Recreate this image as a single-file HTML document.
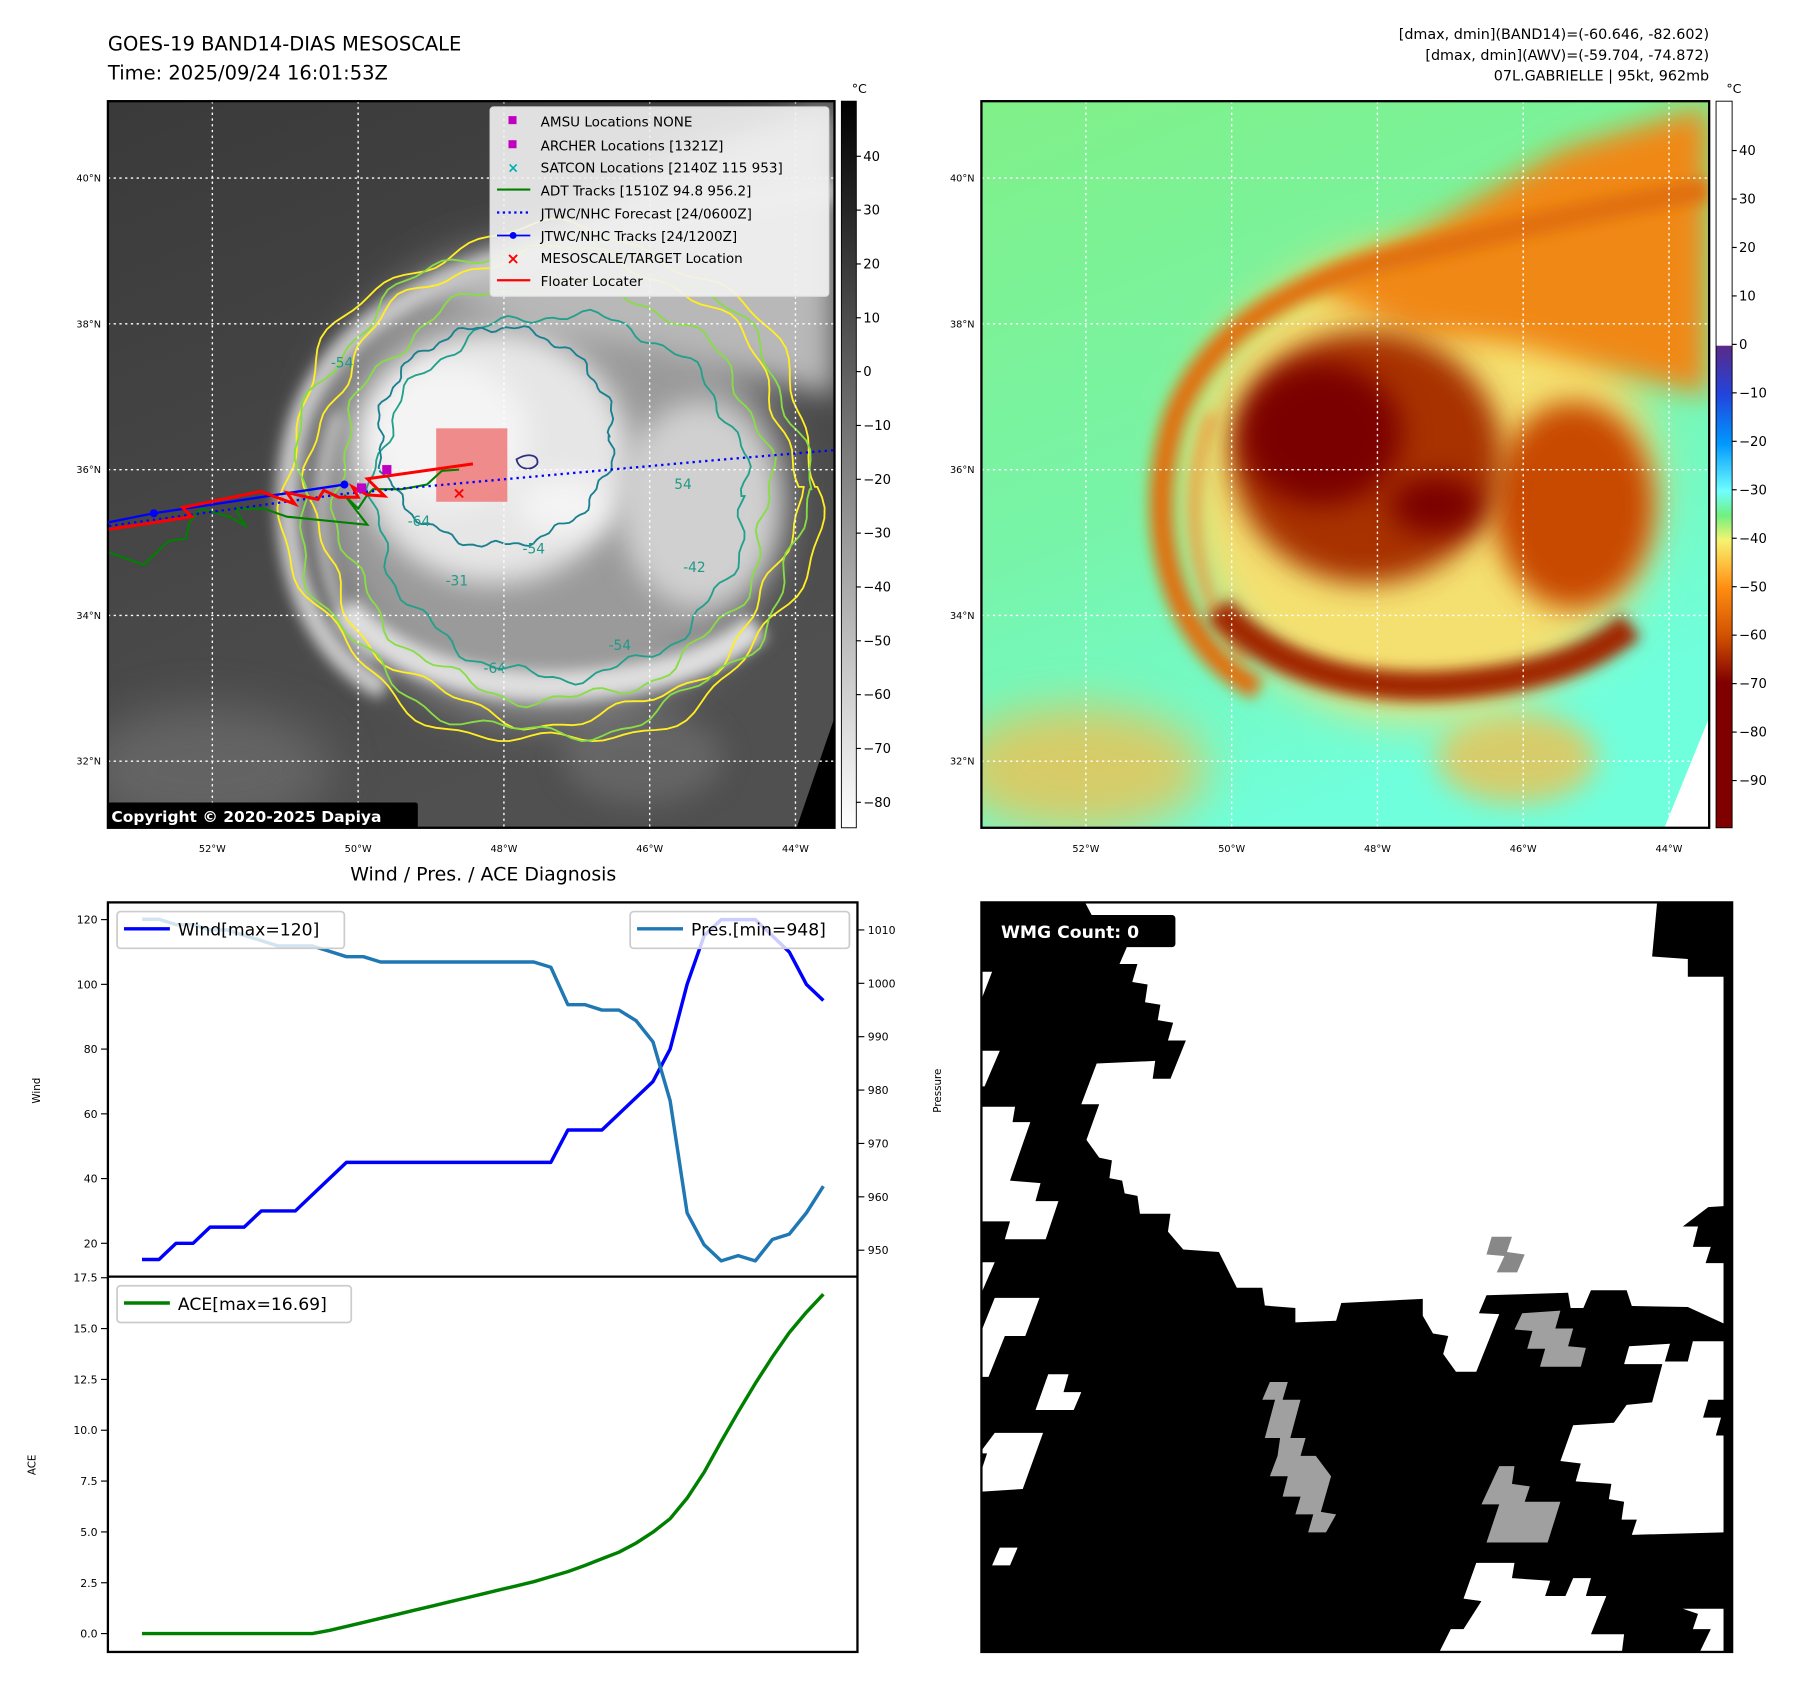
<!DOCTYPE html>
<html><head><meta charset="utf-8"><style>html,body{margin:0;padding:0;background:#fff}svg{display:block}text{font-family:"DejaVu Sans","Liberation Sans",sans-serif}</style></head>
<body>
<svg id="root" xmlns="http://www.w3.org/2000/svg" width="1801" height="1690" viewBox="0 0 1569 1472">
<defs>
<filter id="b6" x="-50%" y="-50%" width="200%" height="200%"><feGaussianBlur stdDeviation="6"/></filter>
<filter id="b12" x="-50%" y="-50%" width="200%" height="200%"><feGaussianBlur stdDeviation="12"/></filter>
<filter id="b20" x="-60%" y="-60%" width="220%" height="220%"><feGaussianBlur stdDeviation="20"/></filter>
<clipPath id="clipL"><rect x="94" y="88" width="633" height="633"/></clipPath>
<clipPath id="clipR"><rect x="855" y="88" width="634" height="633"/></clipPath>
<clipPath id="clipW"><rect x="94" y="786" width="653" height="326"/></clipPath>
<clipPath id="clipA"><rect x="94" y="1112" width="653" height="327"/></clipPath>
<clipPath id="clipBR"><rect x="855" y="786" width="654" height="653"/></clipPath>
<linearGradient id="gcb" x1="0" y1="0" x2="0" y2="1"><stop offset="0" stop-color="#000"/><stop offset="1" stop-color="#fff"/></linearGradient>
<linearGradient id="ccb" x1="0" y1="0" x2="0" y2="1">
<stop offset="0" stop-color="#fff"/><stop offset="0.336" stop-color="#fff"/>
<stop offset="0.337" stop-color="#5a2a88"/><stop offset="0.404" stop-color="#2244dd"/>
<stop offset="0.471" stop-color="#0098ff"/><stop offset="0.537" stop-color="#70ffff"/>
<stop offset="0.57" stop-color="#70f080"/><stop offset="0.604" stop-color="#f4f470"/>
<stop offset="0.637" stop-color="#ffc040"/><stop offset="0.671" stop-color="#ff8c10"/>
<stop offset="0.737" stop-color="#d05000"/><stop offset="0.8" stop-color="#800000"/><stop offset="1" stop-color="#800000"/></linearGradient>
<linearGradient id="rbg" x1="0" y1="0" x2="0.4" y2="1"><stop offset="0" stop-color="#80f088"/><stop offset="0.55" stop-color="#78f4a8"/><stop offset="1" stop-color="#70ffdc"/></linearGradient>
<linearGradient id="lbg" x1="0" y1="0" x2="0.4" y2="1"><stop offset="0" stop-color="#3a3a3a"/><stop offset="1" stop-color="#505050"/></linearGradient>
</defs>

<text x="94" y="44" font-size="17">GOES-19 BAND14-DIAS MESOSCALE</text>
<text x="94" y="69" font-size="17">Time: 2025/09/24 16:01:53Z</text>
<g font-size="12.5" text-anchor="end">
<text x="1489" y="34">[dmax, dmin](BAND14)=(-60.646, -82.602)</text>
<text x="1489" y="52">[dmax, dmin](AWV)=(-59.704, -74.872)</text>
<text x="1489" y="70">07L.GABRIELLE | 95kt, 962mb</text>
</g>

<!-- LEFT MAP -->
<g clip-path="url(#clipL)">
<rect x="94" y="88" width="633" height="633" fill="url(#lbg)"/>
<g id="cloudsL"></g>
<g id="contoursL" fill="none"></g>
<polygon points="727,625 727,721 694,721" fill="#000"/>
</g>
<g id="gridL"></g>
<rect x="94" y="88" width="633" height="633" fill="none" stroke="#000" stroke-width="2"/>

<!-- tracks -->
<g clip-path="url(#clipL)">
<rect x="380" y="373" width="62" height="64" fill="#f08080" opacity="0.9"/>
<polyline points="95,481 125,492 147,471 162,469 165,455 175,443 200,450 214,458 205,443 230,443 250,450 320,457 300,431 312,443 320,431 325,426 350,426 372,422 385,410 400,409" fill="none" stroke="#008000" stroke-width="1.8"/>
<polyline points="95,458 300,430 620,401 727,392" fill="none" stroke="#0000ff" stroke-width="2" stroke-dasharray="2,3.5"/>
<polyline points="94,455 134,447 300,422" fill="none" stroke="#0000ff" stroke-width="2"/>
<circle cx="134" cy="447" r="3.5" fill="#0000ff"/><circle cx="300" cy="422" r="3.5" fill="#0000ff"/>
<polyline points="95,461 167,450 159,442 227,428 257,439 250,429 277,435 282,427 295,433 312,433 307,424 320,431 335,432 320,417 412,404" fill="none" stroke="#ff0000" stroke-width="2.6"/>
<rect x="333" y="405" width="8" height="8" fill="#c000c0"/>
<rect x="311" y="421" width="8" height="8" fill="#c000c0"/>
<text x="400" y="434" font-size="14" font-weight="bold" fill="#ff0000" text-anchor="middle">×</text>
</g>

<g>
<rect x="427" y="93" width="295" height="165" rx="3" fill="#f2f2f2" fill-opacity="0.9" stroke="#ddd"/>
<g font-size="11.8">
<rect x="443" y="101" width="7" height="7" fill="#c000c0"/><text x="471" y="110">AMSU Locations NONE</text>
<rect x="443" y="122" width="7" height="7" fill="#c000c0"/><text x="471" y="131">ARCHER Locations [1321Z]</text>
<text x="447" y="150" fill="#00b0b0" font-size="12" font-weight="bold" text-anchor="middle">×</text><text x="471" y="150">SATCON Locations [2140Z 115 953]</text>
<line x1="433" y1="165" x2="462" y2="165" stroke="#008000" stroke-width="1.8"/><text x="471" y="170">ADT Tracks [1510Z 94.8 956.2]</text>
<line x1="433" y1="185" x2="462" y2="185" stroke="#0000ff" stroke-width="2" stroke-dasharray="2,3"/><text x="471" y="190">JTWC/NHC Forecast [24/0600Z]</text>
<line x1="433" y1="205" x2="462" y2="205" stroke="#0000ff" stroke-width="1.6"/><circle cx="447" cy="205" r="3" fill="#0000ff"/><text x="471" y="210">JTWC/NHC Tracks [24/1200Z]</text>
<text x="447" y="230" fill="#ff0000" font-size="14" font-weight="bold" text-anchor="middle">×</text><text x="471" y="229">MESOSCALE/TARGET Location</text>
<line x1="433" y1="244" x2="462" y2="244" stroke="#ff0000" stroke-width="2"/><text x="471" y="249">Floater Locater</text>
</g></g>
<g><rect x="94" y="699" width="270" height="22" rx="2" fill="#000"/><text x="97" y="716" font-size="13.5" font-weight="bold" fill="#fff">Copyright © 2020-2025 Dapiya</text></g>

<g>
<rect x="733" y="88" width="13" height="633" fill="url(#gcb)" stroke="#000" stroke-width="0.8"/>
<text x="742" y="81" font-size="11">°C</text>
<g id="cbL" font-size="11.5"></g></g>

<!-- RIGHT MAP -->
<g clip-path="url(#clipR)">
<rect x="855" y="88" width="634" height="633" fill="url(#rbg)"/>
<g id="cloudsR" transform="translate(761,0)"></g>
<polygon points="1489,625 1489,721 1450,721" fill="#fff"/>
</g>
<g id="gridR"></g>
<rect x="855" y="88" width="634" height="633" fill="none" stroke="#000" stroke-width="2"/>
<g>
<rect x="1495" y="88" width="14" height="633" fill="url(#ccb)" stroke="#000" stroke-width="0.8"/>
<text x="1504" y="81" font-size="11">°C</text>
<g id="cbR" font-size="11.5"></g></g>

<!-- CHART -->
<text x="421" y="767" font-size="16.5" text-anchor="middle">Wind / Pres. / ACE Diagnosis</text>
<g id="chart"></g>

<!-- WMG -->
<g>
<g clip-path="url(#clipBR)"><rect x="855" y="786" width="654" height="653" fill="#000"/><g id="wmg"></g></g>
<rect x="855" y="786" width="654" height="653" fill="none" stroke="#000" stroke-width="2"/>
<rect x="864" y="797" width="160" height="28" rx="3" fill="#000"/>
<text x="872" y="817" font-size="15" font-weight="bold" fill="#fff">WMG Count: 0</text>
</g>
</svg>
<script>
const NS='http://www.w3.org/2000/svg';
// ===== Chart data =====
const windValues=[15,15,20,20,25,25,25,30,30,30,35,40,45,45,45,45,45,45,45,45,45,45,45,45,45,55,55,55,60,65,70,80,100,115,120,120,120,115,110,100,95];
const presValues=[1012,1012,1011,1011,1010,1010,1009,1008,1007,1007,1007,1006,1005,1005,1004,1004,1004,1004,1004,1004,1004,1004,1004,1004,1003,996,996,995,995,993,989,978,957,951,948,949,948,952,953,957,962];
const aceValues=[0,0,0,0,0,0,0,0,0,0,0,0.15,0.35,0.55,0.75,0.95,1.15,1.35,1.55,1.75,1.95,2.15,2.35,2.55,2.8,3.05,3.35,3.68,4.0,4.45,4.99,5.65,6.66,7.93,9.45,10.9,12.3,13.6,14.8,15.8,16.69];
const windTicks=[20,40,60,80,100,120];
const presTicks=[950,960,970,980,990,1000,1010];
const aceTicks=[0,2.5,5,7.5,10,12.5,15,17.5];
const aceTickLabels=['0.0','2.5','5.0','7.5','10.0','12.5','15.0','17.5'];
function lin(d0,d1,r0,r1){return v=>r0+(v-d0)/(d1-d0)*(r1-r0);}
const xS=lin(-2,42,94,747);
const yW=lin(20,120,1083,801);
const yP=lin(950,1010,1089,810);
const yA=lin(0,17.5,1423,1113);
const chart=document.getElementById('chart');
function el(tag,attrs,parent){const e=document.createElementNS(NS,tag);for(const k in attrs)e.setAttribute(k,attrs[k]);(parent||chart).appendChild(e);return e;}
function txt(s,attrs,parent){const e=el('text',attrs,parent);e.textContent=s;return e;}
function series(vals,ys,color,clip,name){
  const p=el('polyline',{points:vals.map((v,i)=>xS(i).toFixed(1)+','+ys(v).toFixed(1)).join(' '),fill:'none',stroke:color,'stroke-width':3,'stroke-linejoin':'round','clip-path':'url(#'+clip+')'});
  
  
}
series(windValues,yW,'#0000ff','clipW','wind-line');
series(presValues,yP,'#1f77b4','clipW','pressure-line');
series(aceValues,yA,'#008000','clipA','ace-line');
windTicks.forEach(v=>{const y=yW(v);el('line',{x1:88,x2:94,y1:y,y2:y,stroke:'#000'});const t=txt(String(v),{x:85,y:y+3.5,'font-size':9.5,'text-anchor':'end'});});
presTicks.forEach(v=>{const y=yP(v);el('line',{x1:747,x2:753,y1:y,y2:y,stroke:'#000'});const t=txt(String(v),{x:756,y:y+3.5,'font-size':9.5});});
aceTicks.forEach((v,i)=>{const y=yA(v);el('line',{x1:88,x2:94,y1:y,y2:y,stroke:'#000'});const t=txt(aceTickLabels[i],{x:85,y:y+3.5,'font-size':9.5,'text-anchor':'end'});});
el('rect',{x:94,y:786,width:653,height:653,fill:'none',stroke:'#000','stroke-width':2});
el('line',{x1:94,x2:747,y1:1112,y2:1112,stroke:'#000','stroke-width':2});
let t=txt('Wind',{x:0,y:0,'font-size':9,transform:'translate(35,950) rotate(-90)','text-anchor':'middle'});
t=txt('Pressure',{x:0,y:0,'font-size':9,transform:'translate(820,950) rotate(-90)','text-anchor':'middle'});
t=txt('ACE',{x:0,y:0,'font-size':9,transform:'translate(31,1276) rotate(-90)','text-anchor':'middle'});
function legend(x,y,w,color,label,name){const g=el('g',{});
 el('rect',{x:x,y:y,width:w,height:32,rx:3,fill:'#fff','fill-opacity':0.8,stroke:'#ccc','stroke-width':1.5},g);
 el('line',{x1:x+6,x2:x+46,y1:y+15,y2:y+15,stroke:color,'stroke-width':3},g);
 txt(label,{x:x+53,y:y+21,'font-size':15},g);}
legend(102,794,198,'#0000ff','Wind[max=120]','wind-legend');
legend(549,794,191,'#1f77b4','Pres.[min=948]','pressure-legend');
legend(102,1120,204,'#008000','ACE[max=16.69]','ace-legend');

// ===== Map grids =====
function grid(id,x0){const g=document.getElementById(id);
 const lons=['52°W','50°W','48°W','46°W','44°W'],lats=['40°N','38°N','36°N','34°N','32°N'];
 lons.forEach((s,i)=>{const x=x0+91+127*i;el('line',{x1:x,x2:x,y1:88,y2:721,stroke:'#fff','stroke-width':1.2,'stroke-dasharray':'2,3'},g);txt(s,{x:x,y:742,'font-size':8.5,'text-anchor':'middle'},g);});
 lats.forEach((s,i)=>{const y=155+127*i;el('line',{x1:x0,x2:x0+633,y1:y,y2:y,stroke:'#fff','stroke-width':1.2,'stroke-dasharray':'2,3'},g);txt(s,{x:x0-6,y:y+3,'font-size':8.5,'text-anchor':'end'},g);});}
grid('gridL',94);grid('gridR',855);
const cbLticks=[40,30,20,10,0,-10,-20,-30,-40,-50,-60,-70,-80];
cbLticks.forEach(v=>{const y=136+(40-v)*4.69;const g=document.getElementById('cbL');el('line',{x1:746,x2:750,y1:y,y2:y,stroke:'#000'},g);txt(v<0?'\u2212'+(-v):String(v),{x:752,y:y+4},g);});
const cbRticks=[40,30,20,10,0,-10,-20,-30,-40,-50,-60,-70,-80,-90];
cbRticks.forEach(v=>{const y=131+(40-v)*4.222;const g=document.getElementById('cbR');el('line',{x1:1509,x2:1513,y1:y,y2:y,stroke:'#000'},g);txt(v<0?'\u2212'+(-v):String(v),{x:1515,y:y+4},g);});

// ===== Clouds (shared geometry, two palettes) =====
function clouds(id,pal){const g=document.getElementById(id);
 el('ellipse',{cx:180,cy:670,rx:110,ry:55,fill:pal.low,filter:'url(#b20)',opacity:0.8},g);
 el('ellipse',{cx:560,cy:660,rx:70,ry:40,fill:pal.low,filter:'url(#b12)',opacity:0.8},g);
 el('ellipse',{cx:475,cy:420,rx:205,ry:205,fill:pal.halo,filter:'url(#b20)'},g);
 el('polygon',{points:'380,250 480,200 600,130 727,92 727,345 640,322 560,300 470,290',fill:pal.upper,filter:'url(#b12)'},g);
 el('path',{d:'M335,600 C255,560 235,450 262,365 C290,290 360,250 440,228 C520,208 610,185 727,165',fill:'none',stroke:pal.band,'stroke-width':20,filter:'url(#b6)'},g);
 el('path',{d:'M325,575 C275,520 268,430 295,360',fill:'none',stroke:pal.band2,'stroke-width':8,filter:'url(#b6)'},g);
 el('ellipse',{cx:610,cy:440,rx:70,ry:90,fill:pal.blob,filter:'url(#b12)'},g);
 el('path',{d:'M300,530 C350,585 430,605 520,595 C590,588 630,570 660,545',fill:'none',stroke:pal.lower,'stroke-width':26,filter:'url(#b6)'},g);
 el('ellipse',{cx:430,cy:398,rx:118,ry:110,fill:pal.core,filter:'url(#b12)'},g);
 el('ellipse',{cx:390,cy:378,rx:70,ry:62,fill:pal.eye,filter:'url(#b12)'},g);
 el('ellipse',{cx:490,cy:440,rx:40,ry:25,fill:pal.eye,filter:'url(#b12)'},g);}
clouds('cloudsL',{low:'#6a6a6a',halo:'#9a9a9a',band:'#c8c8c8',band2:'#d0d0d0',upper:'#b8b8b8',blob:'#d0d0d0',lower:'#dedede',core:'#e6e6e6',eye:'#f4f4f4'});
clouds('cloudsR',{low:'#f0c050',halo:'#f4e070',band:'#e07010',band2:'#f09030',upper:'#f08818',blob:'#c84800',lower:'#a02800',core:'#a83000',eye:'#7a0000'});

// ===== Contours (decorative) =====
function ring(cx,cy,rx,ry,a,f,ph){let d='';for(let k=0;k<=160;k++){const th=k/160*2*Math.PI;const r=1+a*Math.sin(f*th+ph)+a*0.5*Math.sin(2.7*f*th+ph*2);d+=(k?'L':'M')+(cx+rx*r*Math.cos(th)).toFixed(1)+','+(cy+ry*r*Math.sin(th)).toFixed(1);}return d+'Z';}
const cg=document.getElementById('contoursL');
[[480,424,232,224,'#ffee22'],[482,424,210,205,'#ffee22'],[480,426,222,214,'#88dd44'],[482,428,188,182,'#88dd44'],[488,432,162,158,'#22a08c'],[432,380,102,95,'#1a7f8f']].forEach((c,i)=>{el('path',{d:ring(c[0],c[1],c[2],c[3],0.03,7+i,i),stroke:c[4],'stroke-width':1.6,fill:'none'},cg);});
el('path',{d:'M450,400 c10,-6 20,-4 18,4 c-4,6 -16,6 -18,-4z',stroke:'#303080','stroke-width':1.6,fill:'none'},cg);
[['-64',365,458],['-54',465,482],['-31',398,510],['-54',540,566],['-64',431,586],['-42',605,498],['54',595,426],['-54',298,320]].forEach(l=>{txt(l[0],{x:l[1],y:l[2],'font-size':12,fill:'#229988','text-anchor':'middle'},cg);});

// ===== WMG mask =====
const wmgWhite=[
[[215,30],[1340,30],[1330,140],[1400,145],[1400,180],[1470,180],[1470,630],[1440,632],[1390,670],[1420,670],[1410,710],[1445,710],[1435,742],[1470,742],[1470,860],[1400,828],[1290,826],[1280,795],[1210,795],[1195,830],[1170,830],[1165,800],[1005,805],[990,840],[1030,842],[985,955],[945,955],[920,920],[930,885],[900,880],[880,845],[880,812],[720,820],[710,855],[630,858],[630,830],[570,825],[565,790],[515,790],[480,720],[410,715],[380,680],[385,645],[325,645],[320,610],[295,605],[290,580],[265,575],[270,540],[245,535],[220,500],[245,430],[210,430],[240,350],[355,345],[350,380],[385,380],[415,305],[380,305],[390,270],[360,265],[365,235],[335,230],[340,195],[310,190],[320,155],[285,155],[300,120],[260,115]],
[[1285,905],[1365,900],[1355,935],[1400,935],[1410,895],[1470,895],[1470,1010],[1440,1010],[1430,1045],[1465,1045],[1455,1080],[1470,1080],[1470,1270],[1290,1275],[1300,1245],[1270,1245],[1275,1210],[1245,1205],[1250,1175],[1180,1170],[1190,1135],[1150,1130],[1175,1060],[1255,1055],[1280,1020],[1330,1015],[1350,940],[1275,940]],
[[985,1330],[1060,1330],[1055,1360],[1130,1365],[1120,1395],[1160,1395],[1175,1360],[1210,1360],[1200,1395],[1240,1395],[1210,1470],[1275,1470],[1270,1510],[910,1510],[935,1460],[960,1460],[995,1405],[960,1400]],
[[1390,1420],[1470,1420],[1470,1512],[1420,1512],[1445,1460],[1410,1460],[1420,1430]],
[[10,170],[35,170],[10,235]],[[10,325],[50,325],[20,395],[10,395]],
[[10,435],[80,435],[75,465],[110,465],[70,580],[130,585],[120,620],[165,620],[140,695],[60,695],[70,660],[10,660]],
[[10,740],[40,740],[10,810]],[[40,810],[128,810],[100,885],[60,885],[28,965],[10,965],[10,885]],
[[145,960],[185,960],[175,995],[210,995],[195,1030],[120,1030]],
[[40,1075],[135,1075],[95,1185],[15,1190],[15,1145],[25,1115],[10,1115]],
[[50,1300],[85,1300],[70,1335],[35,1335]]];
const wmgGray=[
['#888',[[1015,690],[1055,690],[1045,720],[1080,725],[1065,760],[1025,760],[1040,728],[1005,725]]],
['#a0a0a0',[[1075,840],[1150,835],[1140,870],[1175,870],[1165,905],[1200,908],[1190,945],[1110,945],[1120,910],[1085,910],[1095,875],[1060,872]]],
['#a0a0a0',[[580,975],[615,975],[605,1010],[640,1010],[620,1085],[650,1085],[640,1120],[670,1120],[700,1160],[680,1230],[710,1235],[690,1270],[655,1270],[665,1235],[630,1235],[640,1200],[605,1200],[615,1160],[580,1160],[595,1120],[600,1085],[570,1085],[590,1010],[565,1010]]],
['#a0a0a0',[[1030,1140],[1060,1140],[1055,1175],[1090,1180],[1080,1210],[1150,1210],[1125,1290],[1005,1290],[1030,1215],[995,1215]]]];
const wg=document.getElementById('wmg');
const tp=p=>p.map(q=>(848.8+q[0]*0.444).toFixed(1)+','+(770.9+q[1]*0.444).toFixed(1)).join(' ');
wmgWhite.forEach(p=>{el('polygon',{points:tp(p),fill:'#fff'},wg);});
wmgGray.forEach(p=>{el('polygon',{points:tp(p[1]),fill:p[0]},wg);});
</script>
</body></html>
